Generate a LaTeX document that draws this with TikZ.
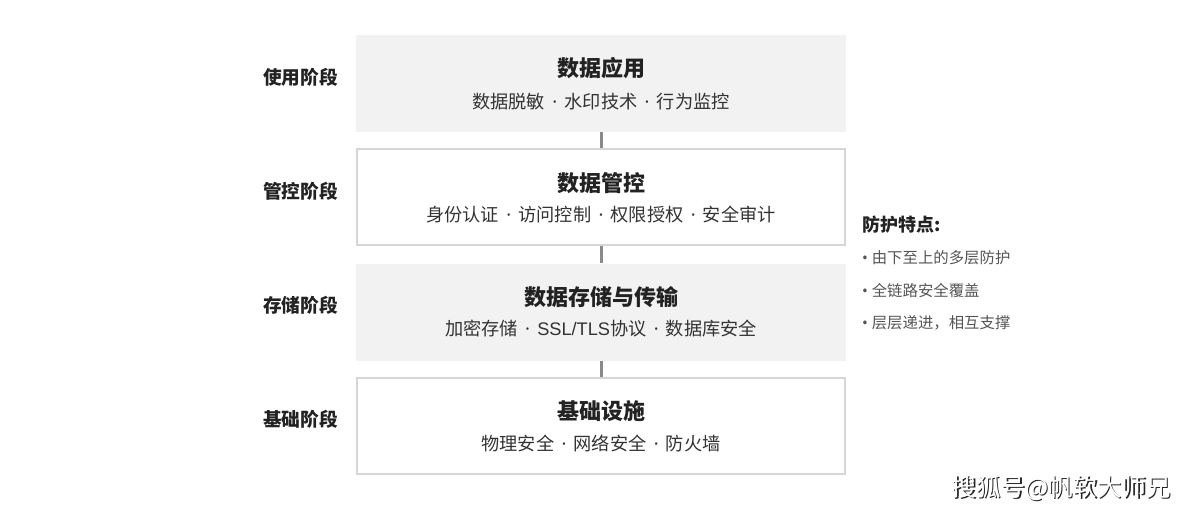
\documentclass[tikz,border=0pt]{standalone}
\usepackage{fontspec}
\setmainfont{Noto Sans CJK SC}
\newfontfamily\latinfont{Noto Sans}
\newfontfamily\arialfont{Liberation Sans}
\newcommand\sepdot{\hspace{0.4em}{\latinfont ·}\hspace{0.4em}}
\definecolor{boxgray}{HTML}{F2F2F2}
\definecolor{edgegray}{HTML}{D6D6D6}
\definecolor{linkgray}{HTML}{8A8A8A}
\definecolor{txtdark}{HTML}{222222}
\definecolor{txtmid}{HTML}{333333}
\definecolor{txtlight}{HTML}{555555}
\tikzset{
  filledbox/.style={rectangle, fill=boxgray, minimum width=490pt, minimum height=97pt, inner sep=0pt},
  framedbox/.style={rectangle, draw=edgegray, line width=2pt, fill=white, minimum width=488pt, minimum height=96pt, inner sep=0pt},
  boxtitle/.style={font=\fontsize{22}{26}\selectfont\bfseries, text=txtdark, inner sep=0pt},
  boxsub/.style={font=\fontsize{18.2}{22}\selectfont, text=txtmid, inner sep=0pt},
  stagelabel/.style={font=\fontsize{18.7}{22}\selectfont\bfseries, text=txtdark, anchor=east, inner sep=0pt},
  notehead/.style={font=\fontsize{18}{22}\selectfont\bfseries, text=txtdark, anchor=west, inner sep=0pt},
  noteitem/.style={font=\fontsize{15.4}{18}\selectfont, text=txtlight, anchor=west, inner sep=0pt},
  link/.style={draw=linkgray, line width=3pt}
}
\begin{document}
\begin{tikzpicture}[x=1pt,y=-1pt]
             \useasboundingbox (0,0) rectangle (1200,514);

             \node[filledbox] (app) at (601,83.5) {};
             \node[framedbox] (ctrl) at (601,197) {};
             \node[filledbox] (store) at (601,312) {};
             \node[framedbox] (base) at (601,425.5) {};

             \draw[link] (app.south) -- (ctrl.north);
             \draw[link] (ctrl.south) -- (store.north);
             \draw[link] (store.south) -- (base.north);

             \node[boxtitle] (apptitle) at (601,68) {数据应用};
             \node[boxsub] (appsub) at (601,102) {数据脱敏\sepdot 水印技术\sepdot 行为监控};
             \node[boxtitle] (ctrltitle) at (601,183) {数据管控};
             \node[boxsub] (ctrlsub) at (601,215) {身份认证\sepdot 访问控制\sepdot 权限授权\sepdot 安全审计};
             \node[boxtitle] (storetitle) at (601,297) {数据存储与传输};
             \node[boxsub] (storesub) at (601,329) {加密存储\sepdot {\arialfont SSL/TLS}协议\sepdot 数据库安全};
             \node[boxtitle] (basetitle) at (601,411) {基础设施};
             \node[boxsub] (basesub) at (601,443) {物理安全\sepdot 网络安全\sepdot 防火墙};

             \node[stagelabel] (appstage) at (338,77) {使用阶段};
             \node[stagelabel] (ctrlstage) at (338,191) {管控阶段};
             \node[stagelabel] (storestage) at (338,305) {存储阶段};
             \node[stagelabel] (basestage) at (338,419) {基础阶段};

             \node[notehead] (notes) at (862,225) {防护特点:};
             \node[noteitem] (note1) at (862,258) {{\latinfont •}\hspace{0.25em}由下至上的多层防护};
             \node[noteitem] (note2) at (862,291) {{\latinfont •}\hspace{0.25em}全链路安全覆盖};
             \node[noteitem] (note3) at (862,323) {{\latinfont •}\hspace{0.25em}层层递进，相互支撑};

             \node[font=\fontsize{24.5}{28}\selectfont, text=black!85, anchor=east, inner sep=0pt] (markshadow) at (1172.5,489.5) {搜狐号@帆软大师兄};
             \node[font=\fontsize{24.5}{28}\selectfont, text=white, anchor=east, inner sep=0pt] (mark) at (1171,488) {搜狐号@帆软大师兄};
         \end{tikzpicture}
\end{document}
